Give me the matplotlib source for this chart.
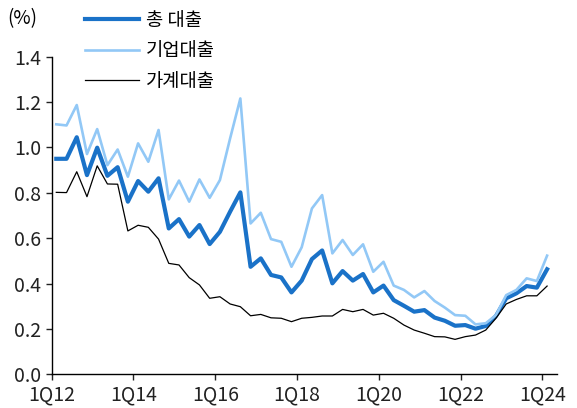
import matplotlib.pyplot as plt
import numpy as np

plt.rcParams['font.family'] = ['Noto Sans CJK KR', 'DejaVu Sans']
plt.rcParams['font.weight'] = 'light'

# Quarterly delinquency rates, 1Q12 .. 1Q24
total = [0.95, 0.95, 1.045, 0.878, 0.999, 0.875, 0.913, 0.761, 0.852, 0.805, 0.864, 0.643, 0.684,
         0.607, 0.658, 0.574, 0.628, 0.717, 0.802, 0.474, 0.511, 0.438, 0.427, 0.361, 0.413,
         0.508, 0.546, 0.401, 0.455, 0.413, 0.442, 0.361, 0.391, 0.327, 0.302, 0.276, 0.283,
         0.250, 0.236, 0.214, 0.217, 0.201, 0.213, 0.257, 0.335, 0.357, 0.389, 0.382, 0.463]
corporate = [1.102, 1.097, 1.187, 0.971, 1.081, 0.922, 0.991, 0.871, 1.018, 0.937, 1.077, 0.771, 0.854,
             0.761, 0.859, 0.778, 0.856, 1.040, 1.216, 0.665, 0.712, 0.596, 0.584, 0.474, 0.560,
             0.731, 0.790, 0.533, 0.592, 0.526, 0.573, 0.452, 0.496, 0.391, 0.372, 0.339, 0.367,
             0.323, 0.294, 0.261, 0.258, 0.220, 0.225, 0.261, 0.349, 0.372, 0.423, 0.411, 0.523]
household = [0.802, 0.801, 0.893, 0.783, 0.919, 0.839, 0.838, 0.632, 0.657, 0.648, 0.596, 0.489, 0.482,
             0.426, 0.394, 0.335, 0.342, 0.310, 0.298, 0.258, 0.264, 0.249, 0.247, 0.232, 0.247,
             0.251, 0.257, 0.257, 0.286, 0.276, 0.286, 0.261, 0.269, 0.247, 0.217, 0.195, 0.181,
             0.166, 0.165, 0.154, 0.166, 0.173, 0.195, 0.247, 0.310, 0.330, 0.346, 0.346, 0.389]
tick_labels = ['1Q12', '1Q14', '1Q16', '1Q18', '1Q20', '1Q22', '1Q24']

fig = plt.figure(figsize=(5.77, 4.08), dpi=100)
ax = fig.add_axes([0.0896, 0.0826, 0.8754, 0.7784])

x = np.arange(len(total)) + 0.45
ax.plot(x, total, color='#1a72c8', lw=3.0, label='총 대출')
ax.plot(x, corporate, color='#92c8f6', lw=1.9, label='기업대출')
ax.plot(x, household, color='black', lw=0.9, label='가계대출')

ax.set_xlim(0, 49.4)
ax.set_ylim(0, 1.4)
ax.set_xticks(np.arange(0, 49, 8))
ax.set_xticklabels(tick_labels)
ax.set_yticks(np.arange(0, 1.41, 0.2))
ax.set_yticklabels([f'{v:.1f}' for v in np.arange(0, 1.41, 0.2)])
ax.tick_params(labelsize=14, length=4, width=1, colors='#222222')
for s in ['top', 'right']:
    ax.spines[s].set_visible(False)
for s in ['left', 'bottom']:
    ax.spines[s].set_linewidth(1)

fig.text(0.012, 0.955, '(%)', fontsize=13.5, va='center', ha='left')
fig.legend(loc='upper left', bbox_to_anchor=(0.118, 1.017), frameon=False,
           fontsize=13.5, handlelength=2.9, labelspacing=0.5, handletextpad=0.35)

fig.savefig('out.png', dpi=100)
